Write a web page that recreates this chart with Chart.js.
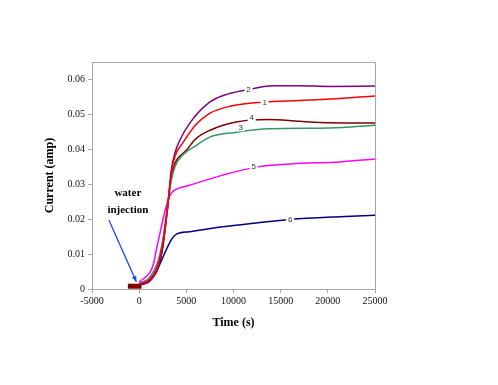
<!DOCTYPE html>
<html>
<head>
<meta charset="utf-8">
<script src="https://cdn.jsdelivr.net/npm/chart.js@4/dist/chart.umd.min.js"></script>
<style>
  html, body { margin: 0; padding: 0; background: #fff; }
</style>
</head>
<body>
<canvas id="myChart" width="498" height="385"></canvas>
<script>
// curve data: [time (s), current (amp)]
let curve1 = [[0,0.0015],[1000,0.0025],[1500,0.004],[2000,0.007],[2500,0.013],[3000,0.023],[3400,0.033],[3800,0.038],[4600,0.0417],[6000,0.047],[7470,0.0503],[9600,0.0523],[13100,0.0535],[17000,0.054],[20200,0.0544],[25000,0.0553]];
let curve2 = [[0,0.0012],[1000,0.002],[1500,0.0035],[2000,0.006],[2500,0.012],[3000,0.023],[3400,0.034],[3800,0.039],[4300,0.0426],[5500,0.048],[7470,0.0535],[9000,0.0555],[11360,0.057],[14150,0.0582],[17000,0.0582],[20200,0.058],[25000,0.0581]];
let curve3 = [[0,0.0016],[1000,0.003],[1500,0.005],[2000,0.008],[2500,0.014],[3000,0.024],[3400,0.031],[3800,0.035],[4600,0.0383],[6000,0.041],[7470,0.0435],[10300,0.0449],[13800,0.0459],[20200,0.0461],[25000,0.0469]];
let curve4 = [[0,0.0012],[1000,0.002],[1500,0.0035],[2000,0.006],[2500,0.012],[3000,0.023],[3400,0.032],[3800,0.036],[5000,0.0397],[6000,0.043],[7470,0.0454],[10300,0.0478],[13800,0.0485],[17000,0.048],[20200,0.0476],[25000,0.0475]];
let curve5 = [[0,0.002],[500,0.003],[1100,0.0046],[1500,0.007],[1800,0.011],[2350,0.0178],[2800,0.023],[3300,0.027],[3760,0.0283],[5350,0.0297],[8850,0.0326],[12420,0.0349],[16000,0.0358],[21250,0.0364],[25000,0.0372]];
let curve6 = [[0,0.0015],[1000,0.0025],[1500,0.004],[2000,0.006],[2500,0.009],[3000,0.012],[3500,0.0145],[3940,0.0157],[5350,0.0164],[8850,0.0178],[12420,0.0189],[15950,0.0199],[21250,0.0207],[25000,0.0211]];
// injection marker
let injection = [[-1200,0.0008],[250,0.0008]];

let curveNames = ['1', '2', '3', '4', '5', '6'];
let curveColors = ['#ff0000', '#800080', '#339966', '#800000', '#ff00ff', '#000080'];
// where the number labels sit on each curve
let labelPos = [[13300,0.0534],[11600,0.0571],[10760,0.0463],[11930,0.0489],[12140,0.0351],[16000,0.0197]];

let xTicks = [-5000, 0, 5000, 10000, 15000, 20000, 25000];
let yTicks = [0, 0.01, 0.02, 0.03, 0.04, 0.05, 0.06];

let curves = [curve1, curve2, curve3, curve4, curve5, curve6];
let toPoints = arr => arr.map(p => ({x: p[0], y: p[1]}));

let datasets = curves.map(function (c, i) {
    return {
        label: curveNames[i],
        data: toPoints(c),
        borderColor: curveColors[i],
        borderWidth: 1.5,
        pointRadius: 0,
        cubicInterpolationMode: 'monotone',
        fill: false
    };
});
datasets.push({
    label: 'injection',
    data: toPoints(injection),
    borderColor: '#800000',
    borderWidth: 5,
    borderCapStyle: 'butt',
    pointRadius: 0
});

// frame, curve numbers, water injection note
const extras = {
    id: 'extras',
    afterDatasetsDraw(chart) {
        const ctx = chart.ctx;
        const xs = chart.scales.x, ys = chart.scales.y;
        const a = chart.chartArea;
        ctx.save();
        ctx.strokeStyle = '#a6a6a6';
        ctx.lineWidth = 1;
        ctx.beginPath();
        ctx.moveTo(a.left, a.top + 0.5);
        ctx.lineTo(a.right + 0.5, a.top + 0.5);
        ctx.lineTo(a.right + 0.5, a.bottom);
        ctx.stroke();

        ctx.font = '8px "Liberation Sans"';
        ctx.textAlign = 'center';
        ctx.textBaseline = 'middle';
        labelPos.forEach(function (p, i) {
            let px = xs.getPixelForValue(p[0]);
            let py = ys.getPixelForValue(p[1]);
            ctx.fillStyle = '#fff';
            ctx.fillRect(px - 4, py - 4, 8, 8);
            ctx.fillStyle = '#333';
            ctx.fillText(curveNames[i], px, py);
        });

        ctx.font = 'bold 11px "Liberation Serif"';
        ctx.fillStyle = '#000';
        ctx.fillText('water', xs.getPixelForValue(-1200), ys.getPixelForValue(0.0275));
        ctx.fillText('injection', xs.getPixelForValue(-1200), ys.getPixelForValue(0.0225));

        // arrow
        let x0 = xs.getPixelForValue(-3200), y0 = ys.getPixelForValue(0.0197);
        let x1 = xs.getPixelForValue(-300), y1 = ys.getPixelForValue(0.0021);
        ctx.strokeStyle = '#1f3fff';
        ctx.fillStyle = '#1f3fff';
        ctx.lineWidth = 1.3;
        ctx.beginPath();
        ctx.moveTo(x0, y0);
        ctx.lineTo(x1, y1);
        ctx.stroke();
        let ang = Math.atan2(y1 - y0, x1 - x0);
        ctx.beginPath();
        ctx.moveTo(x1, y1);
        ctx.lineTo(x1 - 6 * Math.cos(ang - 0.4), y1 - 6 * Math.sin(ang - 0.4));
        ctx.lineTo(x1 - 6 * Math.cos(ang + 0.4), y1 - 6 * Math.sin(ang + 0.4));
        ctx.closePath();
        ctx.fill();
        ctx.restore();
    }
};

var ctx = document.getElementById('myChart').getContext('2d');
let chart = new Chart(ctx, {
    type: 'line',
    data: { datasets: datasets },
    options: {
        responsive: false,
        animation: false,
        layout: { padding: { left: 0, right: 123, top: 62, bottom: 0 } },
        plugins: { legend: { display: false }, tooltip: { enabled: false } },
        scales: {
            x: {
                type: 'linear',
                min: -5000,
                max: 25000,
                afterBuildTicks: s => { s.ticks = xTicks.map(v => ({value: v})); },
                afterFit: s => { s.height = 96; },
                grid: { display: true, drawOnChartArea: false, tickLength: 4, color: '#a6a6a6' },
                border: { color: '#a6a6a6' },
                ticks: {
                    callback: v => String(v),
                    color: '#111',
                    font: { family: 'Liberation Serif', size: 10 },
                    padding: 2,
                    maxRotation: 0
                },
                title: {
                    display: true,
                    text: 'Time (s)',
                    color: '#000',
                    font: { family: 'Liberation Serif', size: 12, weight: 'bold' },
                    padding: { bottom: 55 }
                }
            },
            y: {
                min: 0,
                max: 0.065,
                afterBuildTicks: s => { s.ticks = yTicks.map(v => ({value: v})); },
                afterFit: s => { s.width = 92; },
                grid: { display: true, drawOnChartArea: false, tickLength: 4, color: '#a6a6a6' },
                border: { color: '#a6a6a6' },
                ticks: {
                    callback: v => String(+v.toFixed(2)),
                    color: '#111',
                    font: { family: 'Liberation Serif', size: 10 },
                    padding: 3
                },
                title: {
                    display: true,
                    text: 'Current (amp)',
                    color: '#000',
                    font: { family: 'Liberation Serif', size: 12, weight: 'bold' },
                    padding: { top: 43 }
                }
            }
        }
    },
    plugins: [extras]
});
</script>
</body>
</html>
